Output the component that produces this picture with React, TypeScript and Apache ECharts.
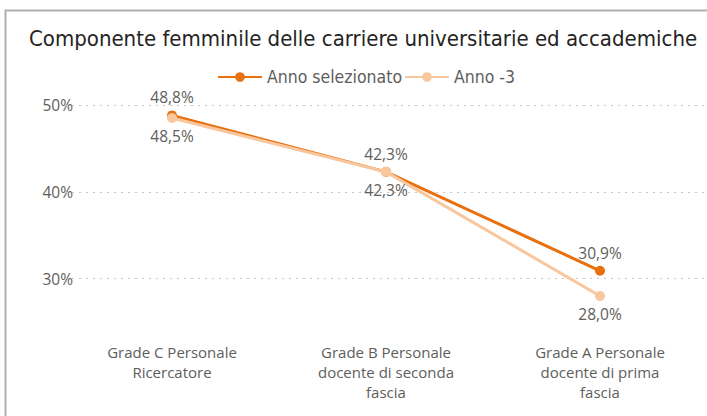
import React, { useEffect, useRef } from "react";
import * as echarts from "echarts";

const categories = [
  "Grade C Personale\nRicercatore",
  "Grade B Personale\ndocente di seconda\nfascia",
  "Grade A Personale\ndocente di prima\nfascia",
];
const annoSelezionato = [48.8, 42.3, 30.9];
const annoMeno3 = [48.5, 42.3, 28.0];
const gridValues = [30, 40, 50];

const fmt = (v: number) => v.toFixed(1).replace(".", ",") + "%";

export default function App() {
  const ref = useRef<HTMLDivElement>(null);
  useEffect(() => {
    if (!ref.current) return;
    const chart = echarts.init(ref.current, null, { renderer: "svg" });
    const font = "'Open Sans', 'Noto Sans', sans-serif";
    const cond = "'DejaVu Sans Condensed', 'Roboto', sans-serif";
    chart.setOption({
      animation: false,
      backgroundColor: "#ffffff",
      title: {
        text: "Componente femminile delle carriere universitarie ed accademiche",
        left: 24,
        top: 22,
        textStyle: { fontFamily: cond, fontSize: 22, fontWeight: "normal", color: "#252423" },
      },
      legend: {
        top: 63,
        left: 212,
        itemWidth: 44,
        itemHeight: 12,
        itemGap: 2,
        textStyle: { fontFamily: cond, fontSize: 17.5, color: "#605E5C" },
        data: ["Anno selezionato", "Anno -3"],
      },
      graphic: [
        {
          type: "polyline",
          shape: { points: [[5.5, 416], [5.5, 10.5], [707, 10.5]] },
          style: { stroke: "#b3b0ad", lineWidth: 2, fill: "none" },
          silent: true,
        },
      ],
      grid: { left: 65, right: 0, top: 105, bottom: 94 },
      xAxis: {
        type: "category",
        data: categories,
        boundaryGap: true,
        axisLine: { show: false },
        axisTick: { show: false },
        axisLabel: {
          margin: 20,
          fontFamily: font,
          fontSize: 15,
          lineHeight: 20,
          color: "#605E5C",
          interval: 0,
        },
      },
      yAxis: {
        type: "value",
        min: 25,
        max: 50,
        interval: 5,
        splitLine: { show: false },
        axisLine: { show: false },
        axisTick: { show: false },
        axisLabel: {
          margin: -8,
          fontFamily: font,
          fontSize: 15.5,
          color: "#605E5C",
          formatter: (v: number) => (v % 10 === 0 ? v + "%" : ""),
        },
      },
      series: [
        {
          name: "Anno selezionato",
          type: "line",
          data: annoSelezionato,
          color: "#E8700F",
          lineStyle: { width: 3 },
          symbol: "circle",
          symbolSize: 10,
          z: 3,
          label: {
            show: true,
            position: "top",
            distance: 5,
            fontFamily: font,
            fontSize: 15.5,
            color: "#605E5C",
            formatter: (p: any) => fmt(p.value),
          },
          markLine: {
            silent: true,
            symbol: "none",
            label: { show: false },
            lineStyle: { type: [2, 5], color: "#c8c6c4", width: 1 },
            data: gridValues.map((v) => ({ yAxis: v })),
            z: 1,
          },
        },
        {
          name: "Anno -3",
          type: "line",
          data: annoMeno3,
          color: "#F8C79D",
          lineStyle: { width: 3 },
          symbol: "circle",
          symbolSize: 10,
          z: 4,
          label: {
            show: true,
            position: "bottom",
            distance: 5,
            fontFamily: font,
            fontSize: 15.5,
            color: "#605E5C",
            formatter: (p: any) => fmt(p.value),
          },
        },
      ],
    });
    return () => chart.dispose();
  }, []);
  return (
    <div
      ref={ref}
      style={{ position: "fixed", left: 0, top: 0, width: 707, height: 416 }}
    />
  );
}
